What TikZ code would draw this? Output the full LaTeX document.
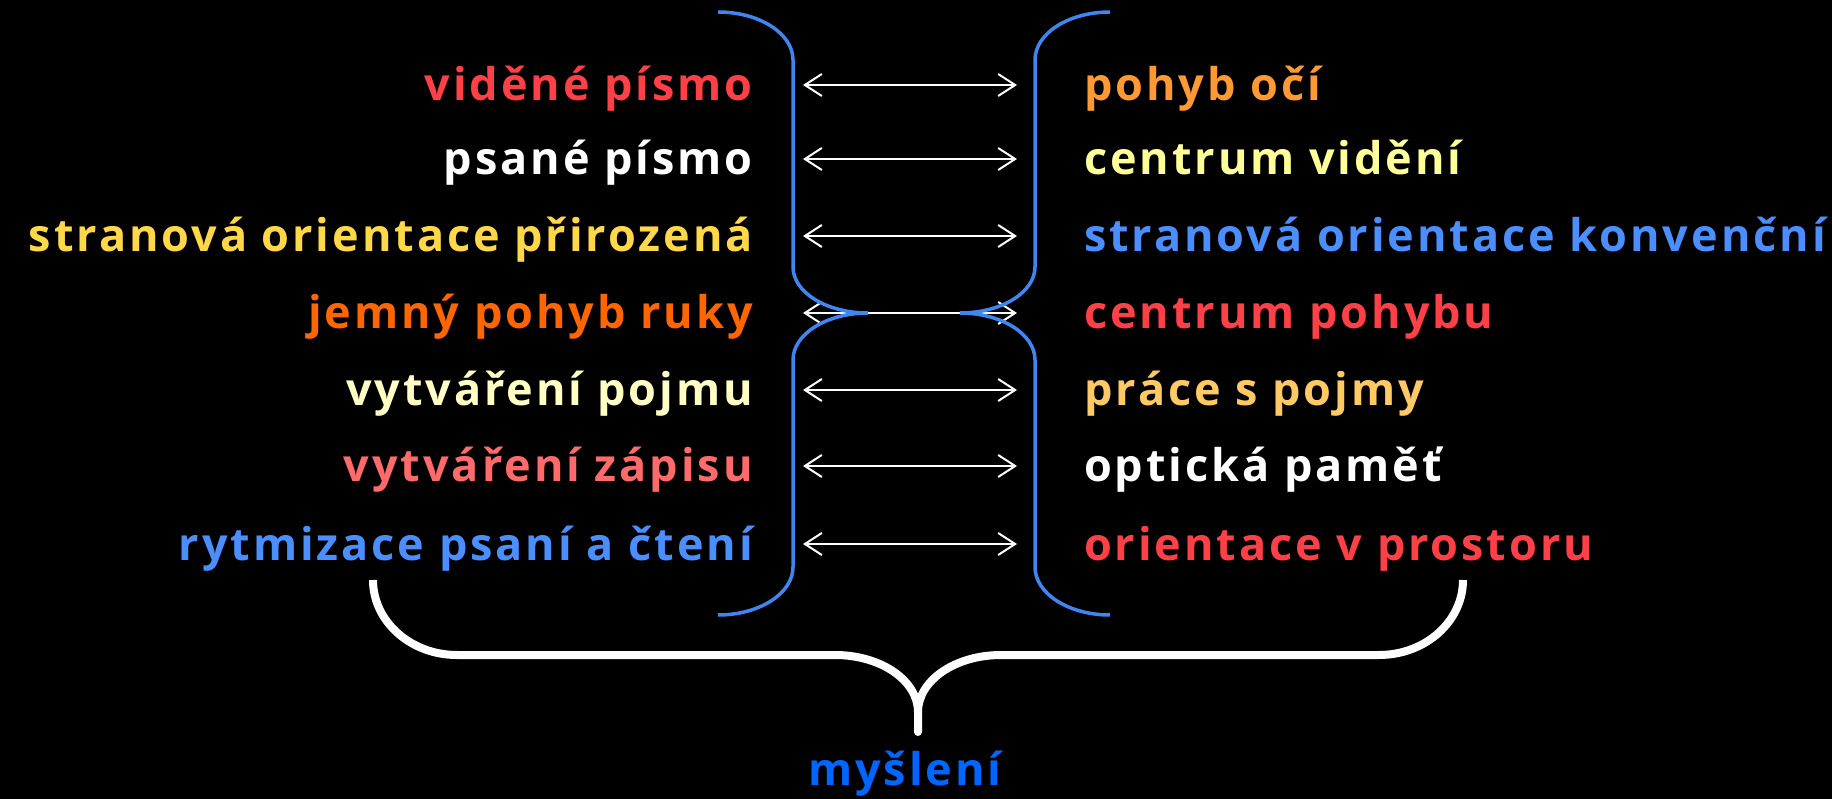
\documentclass[tikz,border=0pt]{standalone}
\usepackage{fontspec}
\setmainfont{Open Sans}
\newfontfamily\labelfont[LetterSpace=6.5]{Open Sans}
\usetikzlibrary{arrows.meta}

\definecolor{redtext}{HTML}{FF4046}
\definecolor{salmontext}{HTML}{FF6A6A}
\definecolor{yellowtext}{HTML}{FFD84A}
\definecolor{orangetext}{HTML}{FF6600}
\definecolor{paletext}{HTML}{FFFFC4}
\definecolor{bluetext}{HTML}{4A8EFF}
\definecolor{amber}{HTML}{FF9933}
\definecolor{lemon}{HTML}{FFFF99}
\definecolor{gold}{HTML}{FFC966}
\definecolor{bracketblue}{HTML}{3F86F0}
\definecolor{deepblue}{HTML}{0066FF}

\tikzset{
  word/.style={inner sep=0pt, font=\labelfont\fontsize{45}{53}\selectfont\bfseries},
  lefttext/.style={word, anchor=base east},
  righttext/.style={word, anchor=base west},
  pairarrow/.style={white, line width=2pt, {Straight Barb[length=17pt,width=22pt]}-{Straight Barb[length=17pt,width=22pt]}},
  bluecurve/.style={bracketblue, line width=3.5pt},
  bigbrace/.style={white, line width=8pt, line join=round}
}

\begin{document}
\begin{tikzpicture}[x=1pt, y=1pt]
    \fill[black] (0,0) rectangle (1832,-799);
    \useasboundingbox (0,0) rectangle (1832,-799);

    \node[lefttext, text=redtext] (L1) at (753,-101) {viděné písmo};
    \node[lefttext, text=white] (L2) at (753,-175) {psané písmo};
    \node[lefttext, text=yellowtext] (L3) at (753,-252) {stranová orientace přirozená};
    \node[lefttext, text=orangetext] (L4) at (753,-329) {jemný pohyb ruky};
    \node[lefttext, text=paletext] (L5) at (753,-406) {vytváření pojmu};
    \node[lefttext, text=salmontext] (L6) at (753,-482) {vytváření zápisu};
    \node[lefttext, text=bluetext] (L7) at (753,-560) {rytmizace psaní a čtení};

    \node[righttext, text=amber] (R1) at (1084,-101) {pohyb očí};
    \node[righttext, text=lemon] (R2) at (1084,-175) {centrum vidění};
    \node[righttext, text=bluetext] (R3) at (1084,-252) {stranová orientace konvenční};
    \node[righttext, text=redtext] (R4) at (1084,-329) {centrum pohybu};
    \node[righttext, text=gold] (R5) at (1084,-406) {práce s pojmy};
    \node[righttext, text=white] (R6) at (1084,-482) {optická paměť};
    \node[righttext, text=redtext] (R7) at (1084,-560) {orientace v prostoru};

    \draw[pairarrow] ([xshift=50pt,yshift=16pt]L1.base east) -- ([xshift=-67pt,yshift=16pt]R1.base west);
    \draw[pairarrow] ([xshift=50pt,yshift=16pt]L2.base east) -- ([xshift=-67pt,yshift=16pt]R2.base west);
    \draw[pairarrow] ([xshift=50pt,yshift=16pt]L3.base east) -- ([xshift=-67pt,yshift=16pt]R3.base west);
    \draw[pairarrow] ([xshift=50pt,yshift=16pt]L4.base east) -- ([xshift=-67pt,yshift=16pt]R4.base west);
    \draw[pairarrow] ([xshift=50pt,yshift=16pt]L5.base east) -- ([xshift=-67pt,yshift=16pt]R5.base west);
    \draw[pairarrow] ([xshift=50pt,yshift=16pt]L6.base east) -- ([xshift=-67pt,yshift=16pt]R6.base west);
    \draw[pairarrow] ([xshift=50pt,yshift=16pt]L7.base east) -- ([xshift=-67pt,yshift=16pt]R7.base west);

    % blue brackets
    \draw[bluecurve] (718,-12) arc[start angle=90, end angle=0, x radius=75, y radius=48]
        -- (793,-267) arc[start angle=180, end angle=270, x radius=75, y radius=46]
        arc[start angle=90, end angle=180, x radius=75, y radius=47]
        -- (793,-567) arc[start angle=0, end angle=-90, x radius=75, y radius=48];
    \draw[bluecurve] (1110,-12) arc[start angle=90, end angle=180, x radius=75, y radius=48]
        -- (1035,-267) arc[start angle=0, end angle=-90, x radius=75, y radius=46]
        arc[start angle=90, end angle=0, x radius=75, y radius=47]
        -- (1035,-567) arc[start angle=180, end angle=270, x radius=75, y radius=48];

    % white brace
    \draw[bigbrace] (373,-580) arc[start angle=180, end angle=270, x radius=84, y radius=75]
        -- (835,-655) arc[start angle=90, end angle=0, x radius=83, y radius=57]
        -- (918,-732) -- (918,-712)
        arc[start angle=180, end angle=90, x radius=83, y radius=57]
        -- (1379,-655) arc[start angle=270, end angle=360, x radius=84, y radius=75];

    \node[word, anchor=base, text=deepblue] (mysleni) at (905,-785) {myšlení};
\end{tikzpicture}
\end{document}
